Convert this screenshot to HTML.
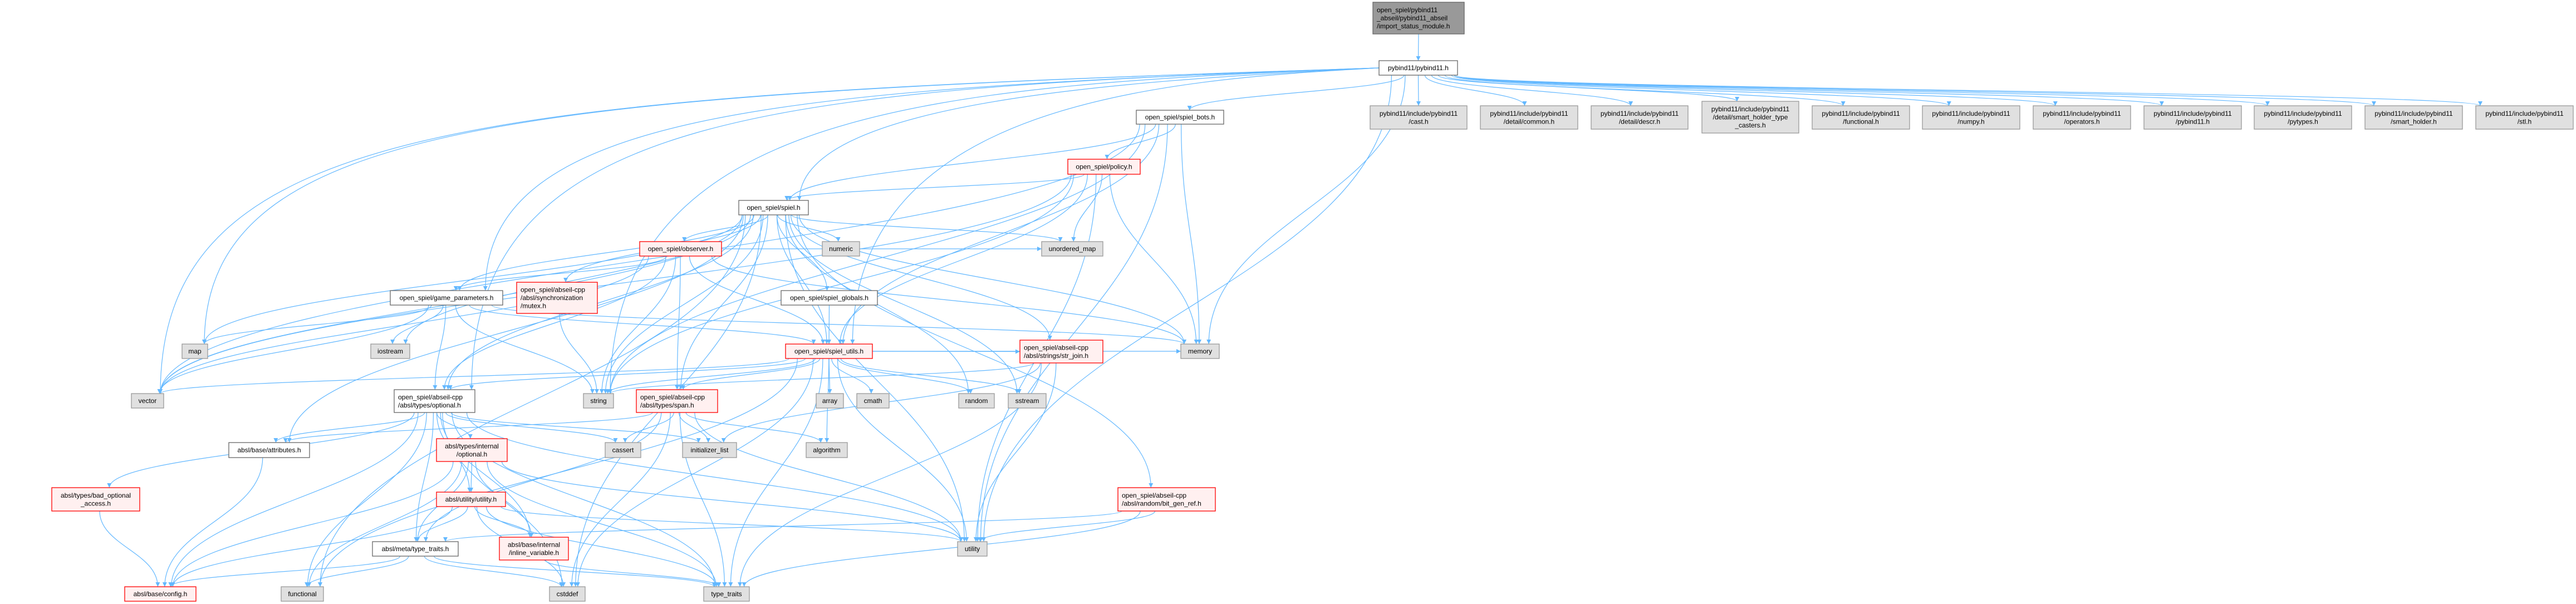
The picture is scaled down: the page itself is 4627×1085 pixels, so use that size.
<!DOCTYPE html>
<html><head><meta charset="utf-8">
<style>
html,body{margin:0;padding:0;background:#fff;}
svg{display:block;}
text{font-family:"Liberation Sans",Arial,sans-serif;font-size:12px;fill:#000;}
</style></head>
<body>
<svg id="g" xmlns="http://www.w3.org/2000/svg" width="4627" height="1085" viewBox="0 0 4627 1085">
<defs>
<marker id="ah" viewBox="0 0 10 10" refX="10" refY="5" markerWidth="11" markerHeight="8" markerUnits="userSpaceOnUse" orient="auto">
<path d="M0,0 L10,5 L0,10 z" fill="#63b8ff"/>
</marker>
</defs>
<g id="edges" fill="none" stroke="#63b8ff" stroke-width="1.2"></g>
<g id="nodes"></g>
</svg>
<script>
var N={
imp:[2466,2630,4,61,'d',["open_spiel/pybind11","_abseil/pybind11_abseil","/import_status_module.h"]],
pyb:[2477,2618,109,135,'w',["pybind11/pybind11.h"]],
bots:[2041,2198,198,223,'w',["open_spiel/spiel_bots.h"]],
cast:[2461,2635,190,232,'g',["pybind11/include/pybind11","/cast.h"]],
common:[2659,2834,190,232,'g',["pybind11/include/pybind11","/detail/common.h"]],
descr:[2858,3032,190,232,'g',["pybind11/include/pybind11","/detail/descr.h"]],
casters:[3057,3231,182,239,'g',["pybind11/include/pybind11","/detail/smart_holder_type","_casters.h"]],
fnh:[3255,3430,190,232,'g',["pybind11/include/pybind11","/functional.h"]],
numpy:[3453,3628,190,232,'g',["pybind11/include/pybind11","/numpy.h"]],
oper:[3652,3827,190,232,'g',["pybind11/include/pybind11","/operators.h"]],
pyb2:[3851,4026,190,232,'g',["pybind11/include/pybind11","/pybind11.h"]],
pyt:[4049,4224,190,232,'g',["pybind11/include/pybind11","/pytypes.h"]],
smh:[4248,4423,190,232,'g',["pybind11/include/pybind11","/smart_holder.h"]],
stl:[4447,4622,190,232,'g',["pybind11/include/pybind11","/stl.h"]],
policy:[1918,2048,286,313,'r',["open_spiel/policy.h"]],
spiel:[1327,1452,360,386,'w',["open_spiel/spiel.h"]],
observer:[1149,1296,434,460,'r',["open_spiel/observer.h"]],
numeric:[1477,1544,434,460,'g',["numeric"]],
umap:[1871,1981,434,460,'g',["unordered_map"]],
gp:[701,903,522,548,'w',["open_spiel/game_parameters.h"]],
mutex:[928,1073,507,563,'r',["open_spiel/abseil-cpp","/absl/synchronization","/mutex.h"]],
globals:[1403,1576,522,548,'w',["open_spiel/spiel_globals.h"]],
map:[327,373,618,644,'g',["map"]],
iostream:[666,736,618,644,'g',["iostream"]],
utils:[1411,1567,618,644,'r',["open_spiel/spiel_utils.h"]],
strjoin:[1832,1981,611,652,'r',["open_spiel/abseil-cpp","/absl/strings/str_join.h"]],
memory:[2121,2190,618,644,'g',["memory"]],
vector:[236,294,707,733,'g',["vector"]],
optional:[708,853,700,741,'w',["open_spiel/abseil-cpp","/absl/types/optional.h"]],
string:[1048,1102,707,733,'g',["string"]],
span:[1143,1289,700,741,'r',["open_spiel/abseil-cpp","/absl/types/span.h"]],
array:[1466,1515,707,733,'g',["array"]],
cmath:[1539,1597,707,733,'g',["cmath"]],
random:[1722,1786,707,733,'g',["random"]],
sstream:[1811,1879,707,733,'g',["sstream"]],
attributes:[411,556,795,822,'w',["absl/base/attributes.h"]],
intopt:[784,911,788,829,'r',["absl/types/internal","/optional.h"]],
cassert:[1087,1151,795,822,'g',["cassert"]],
initlist:[1226,1323,795,822,'g',["initializer_list"]],
algorithm:[1448,1522,795,822,'g',["algorithm"]],
bad:[93,251,876,918,'r',["absl/types/bad_optional","_access.h"]],
utilh:[784,908,884,910,'r',["absl/utility/utility.h"]],
bitgen:[2008,2183,876,918,'r',["open_spiel/abseil-cpp","/absl/random/bit_gen_ref.h"]],
ttraits:[669,823,973,999,'w',["absl/meta/type_traits.h"]],
inline:[897,1021,965,1006,'r',["absl/base/internal","/inline_variable.h"]],
utility:[1720,1773,973,999,'g',["utility"]],
config:[224,352,1054,1080,'r',["absl/base/config.h"]],
functional:[505,581,1054,1080,'g',["functional"]],
cstddef:[987,1051,1054,1080,'g',["cstddef"]],
type_traits:[1264,1346,1054,1080,'g',["type_traits"]]
};
var E={
imp:"pyb",
pyb:"bots spiel utils gp optional vector map string memory utility cast common descr casters fnh numpy oper pyb2 pyt smh stl",
bots:"policy spiel utils vector memory utility string",
policy:"spiel umap memory utils utility string vector",
spiel:"observer numeric gp mutex globals utils span strjoin bitgen umap memory string vector map iostream random sstream functional optional attributes utility cstddef",
observer:"gp utils span string vector memory umap optional",
gp:"map iostream string vector optional utils memory",
mutex:"string",
globals:"utils",
utils:"vector string optional span array cmath random sstream algorithm utility type_traits functional memory strjoin cstddef",
strjoin:"initlist string utility type_traits",
optional:"attributes bad intopt utilh ttraits inline config functional cstddef cassert initlist type_traits utility",
span:"cassert initlist algorithm type_traits utility cstddef attributes ttraits",
attributes:"config",
bad:"config",
intopt:"utilh ttraits inline functional utility type_traits config",
utilh:"ttraits inline config utility cstddef type_traits",
ttraits:"config functional cstddef type_traits",
inline:"type_traits",
bitgen:"utility type_traits ttraits"
};
var NS="http://www.w3.org/2000/svg";
var eg=document.getElementById('edges'),ng=document.getElementById('nodes');
function el(t,a,p){var e=document.createElementNS(NS,t);for(var k in a)e.setAttribute(k,a[k]);p.appendChild(e);return e;}
for(var s in E){
  var S=N[s];var scx=(S[0]+S[1])/2;
  E[s].split(' ').forEach(function(t){
    var T=N[t];var tcx=(T[0]+T[1])/2;
    var sx=scx+(tcx-scx)*0.06;sx=Math.max(S[0]+6,Math.min(S[1]-6,sx));
    var tx=tcx+(scx-tcx)*0.04;tx=Math.max(T[0]+6,Math.min(T[1]-6,tx));
    var sy=S[3],ty=T[2];
    var d;
    if(s=='pyb' && tcx<1700){
      // sweep left along the top then drop
      var yy=118+(1700-tcx)/40;
      d="M"+S[0]+","+(S[2]+13)+" C"+(tcx+600)+","+(yy+20)+" "+tx+","+(yy+60)+" "+tx+","+ty;
    }
    else if(ty>sy+5){var dy=ty-sy;
      d="M"+sx+","+sy+" C"+sx+","+(sy+dy*0.45)+" "+tx+","+(ty-dy*0.45)+" "+tx+","+ty;}
    else{
      var left=tcx<scx;var sxx=left?S[0]:S[1];var txx=left?T[1]:T[0];
      var syy=(S[2]+S[3])/2,tyy=(T[2]+T[3])/2;var mx=(sxx+txx)/2;
      d="M"+sxx+","+syy+" C"+mx+","+syy+" "+mx+","+tyy+" "+txx+","+tyy;}
    el('path',{d:d,'marker-end':'url(#ah)'},eg);
  });
}
for(var k in N){
  var n=N[k];var f,st;
  if(n[4]=='d'){f='#999999';st='#666666';}
  else if(n[4]=='w'){f='#ffffff';st='#666666';}
  else if(n[4]=='r'){f='#fff0f0';st='#ff0000';}
  else{f='#e0e0e0';st='#999999';}
  el('rect',{x:n[0],y:n[2],width:n[1]-n[0],height:n[3]-n[2],fill:f,stroke:st,'stroke-width':1.3},ng);
  var L=n[5];var cy=(n[2]+n[3])/2;var lh=14.5;
  var multi=L.length>1;
  var leftAl=multi&&n[4]!='g'&&k!='bad'&&k!='intopt'&&k!='inline';
  L.forEach(function(s,i){
    var y=cy+(i-(L.length-1)/2)*lh+4.2;
    var t=el('text',{x:leftAl?n[0]+7:(n[0]+n[1])/2,y:y,'text-anchor':leftAl?'start':'middle'},ng);
    t.textContent=s;
  });
}
</script>
</body></html>
